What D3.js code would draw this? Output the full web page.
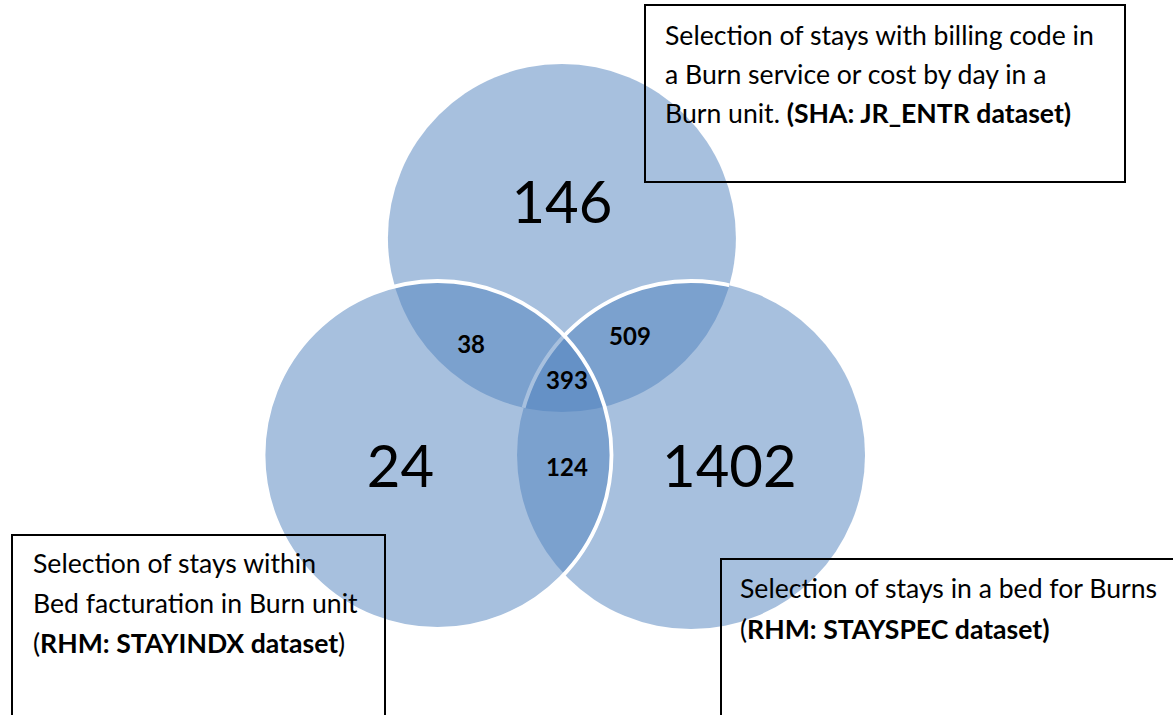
<!DOCTYPE html>
<html>
<head>
<meta charset="utf-8">
<script src="https://cdn.jsdelivr.net/npm/d3@7"></script>
<style>
  html, body { margin: 0; padding: 0; background: #ffffff; }
  svg { display: block; }
</style>
</head>
<body>
<script>
// Three data sources of burn-unit stays and how their selections overlap
const sets = ["SHA", "STAYINDX", "STAYSPEC"];
const regionKeys = ["SHA", "STAYINDX", "STAYSPEC", "SHA&STAYINDX", "SHA&STAYSPEC", "STAYINDX&STAYSPEC", "SHA&STAYINDX&STAYSPEC"];
const regionValues = [146, 24, 1402, 38, 509, 124, 393];

// Description boxes, one per source (each entry: list of lines, each line a list of [text, bold])
const setDescriptions = [
  [
    [["Selection of stays with billing code in", false]],
    [["a Burn service or cost by day in a", false]],
    [["Burn unit. ", false], ["(SHA: JR_ENTR dataset)", true]]
  ],
  [
    [["Selection of stays within", false]],
    [["Bed facturation in Burn unit", false]],
    [["(", false], ["RHM: STAYINDX dataset", true], [")", false]]
  ],
  [
    [["Selection of stays in a bed for Burns", false]],
    [["(", false], ["RHM: STAYSPEC dataset)", true]]
  ]
];

const W = 1173, H = 715;
const svg = d3.select("body").append("svg").attr("width", W).attr("height", H);

// Diagram units: circle radius = 1, origin between the two lower circles
const x = d3.scaleLinear().domain([0, 1]).range([564, 738]);
const y = d3.scaleLinear().domain([0, 1]).range([455, 629]);
const R = x(1) - x(0);

const centers = {
  SHA:      [-0.012, -1.247],
  STAYINDX: [-0.727, 0],
  STAYSPEC: [0.730, 0]
};

const fill = "#4F81BD";
const defs = svg.append("defs");
defs.append("clipPath").attr("id", "clip-top")
  .append("circle")
  .attr("cx", x(centers.SHA[0])).attr("cy", y(centers.SHA[1])).attr("r", R);

const g = svg.append("g");
function disc(key) {
  return g.append("circle")
    .attr("cx", x(centers[key][0]))
    .attr("cy", y(centers[key][1]))
    .attr("r", R);
}

// Stacking: upper set, right set (outline only shows over the upper set), left set on top
disc("SHA").attr("fill", fill).attr("fill-opacity", 0.5);
disc("STAYSPEC").attr("fill", fill).attr("fill-opacity", 0.5);
disc("STAYSPEC").attr("fill", "none").attr("stroke", "#ffffff").attr("stroke-width", 3.8)
  .attr("clip-path", "url(#clip-top)");
disc("STAYINDX").attr("fill", fill).attr("fill-opacity", 0.5)
  .attr("stroke", "#ffffff").attr("stroke-width", 3.8);

// Region counts
const labelPos = {
  "SHA":                   { p: [-0.012, -1.335], size: 58, bold: false },
  "STAYINDX":              { p: [-0.94, 0.184],   size: 58, bold: false },
  "STAYSPEC":              { p: [0.95, 0.184],    size: 58, bold: false },
  "SHA&STAYINDX":          { p: [-0.534, -0.585], size: 24, bold: true },
  "SHA&STAYSPEC":          { p: [0.379, -0.632],  size: 24, bold: true },
  "STAYINDX&STAYSPEC":     { p: [0.017, 0.121],   size: 24, bold: true },
  "SHA&STAYINDX&STAYSPEC": { p: [0.017, -0.378],  size: 24, bold: true }
};

const labels = regionKeys.map((k, i) => ({ key: k, value: regionValues[i] }));
svg.append("g").selectAll("text")
  .data(labels)
  .join("text")
  .attr("x", d => x(labelPos[d.key].p[0]))
  .attr("y", d => y(labelPos[d.key].p[1]))
  .attr("text-anchor", "middle")
  .attr("font-family", "Lato, 'Open Sans', sans-serif")
  .attr("font-size", d => labelPos[d.key].size)
  .attr("font-weight", d => labelPos[d.key].bold ? 700 : 400)
  .attr("fill", "#000000")
  .text(d => d.value);

// Description boxes (transparent, drawn over the circles)
const boxes = [
  { x0: 645, y0: 5,   x1: 1125, y1: 182, tx: 665, ty: 45,  lh: 39 },
  { x0: 12,  y0: 535, x1: 385,  y1: 760, tx: 33,  ty: 573, lh: 40 },
  { x0: 721, y0: 559, x1: 1200, y1: 760, tx: 740, ty: 598, lh: 41 }
];

const boxG = svg.append("g");
boxes.forEach((b, i) => {
  boxG.append("rect")
    .attr("x", b.x0).attr("y", b.y0)
    .attr("width", b.x1 - b.x0).attr("height", b.y1 - b.y0)
    .attr("fill", "none").attr("stroke", "#000000").attr("stroke-width", 2);
  const t = boxG.append("text")
    .attr("font-family", "Lato, 'Open Sans', sans-serif")
    .attr("font-size", 26.6)
    .attr("fill", "#000000");
  setDescriptions[i].forEach((line, li) => {
    line.forEach((seg, si) => {
      const ts = t.append("tspan")
        .attr("font-weight", seg[1] ? 700 : 400)
        .style("white-space", "pre")
        .text(seg[0]);
      if (si === 0) ts.attr("x", b.tx).attr("y", b.ty + li * b.lh);
    });
  });
});
</script>
</body>
</html>
